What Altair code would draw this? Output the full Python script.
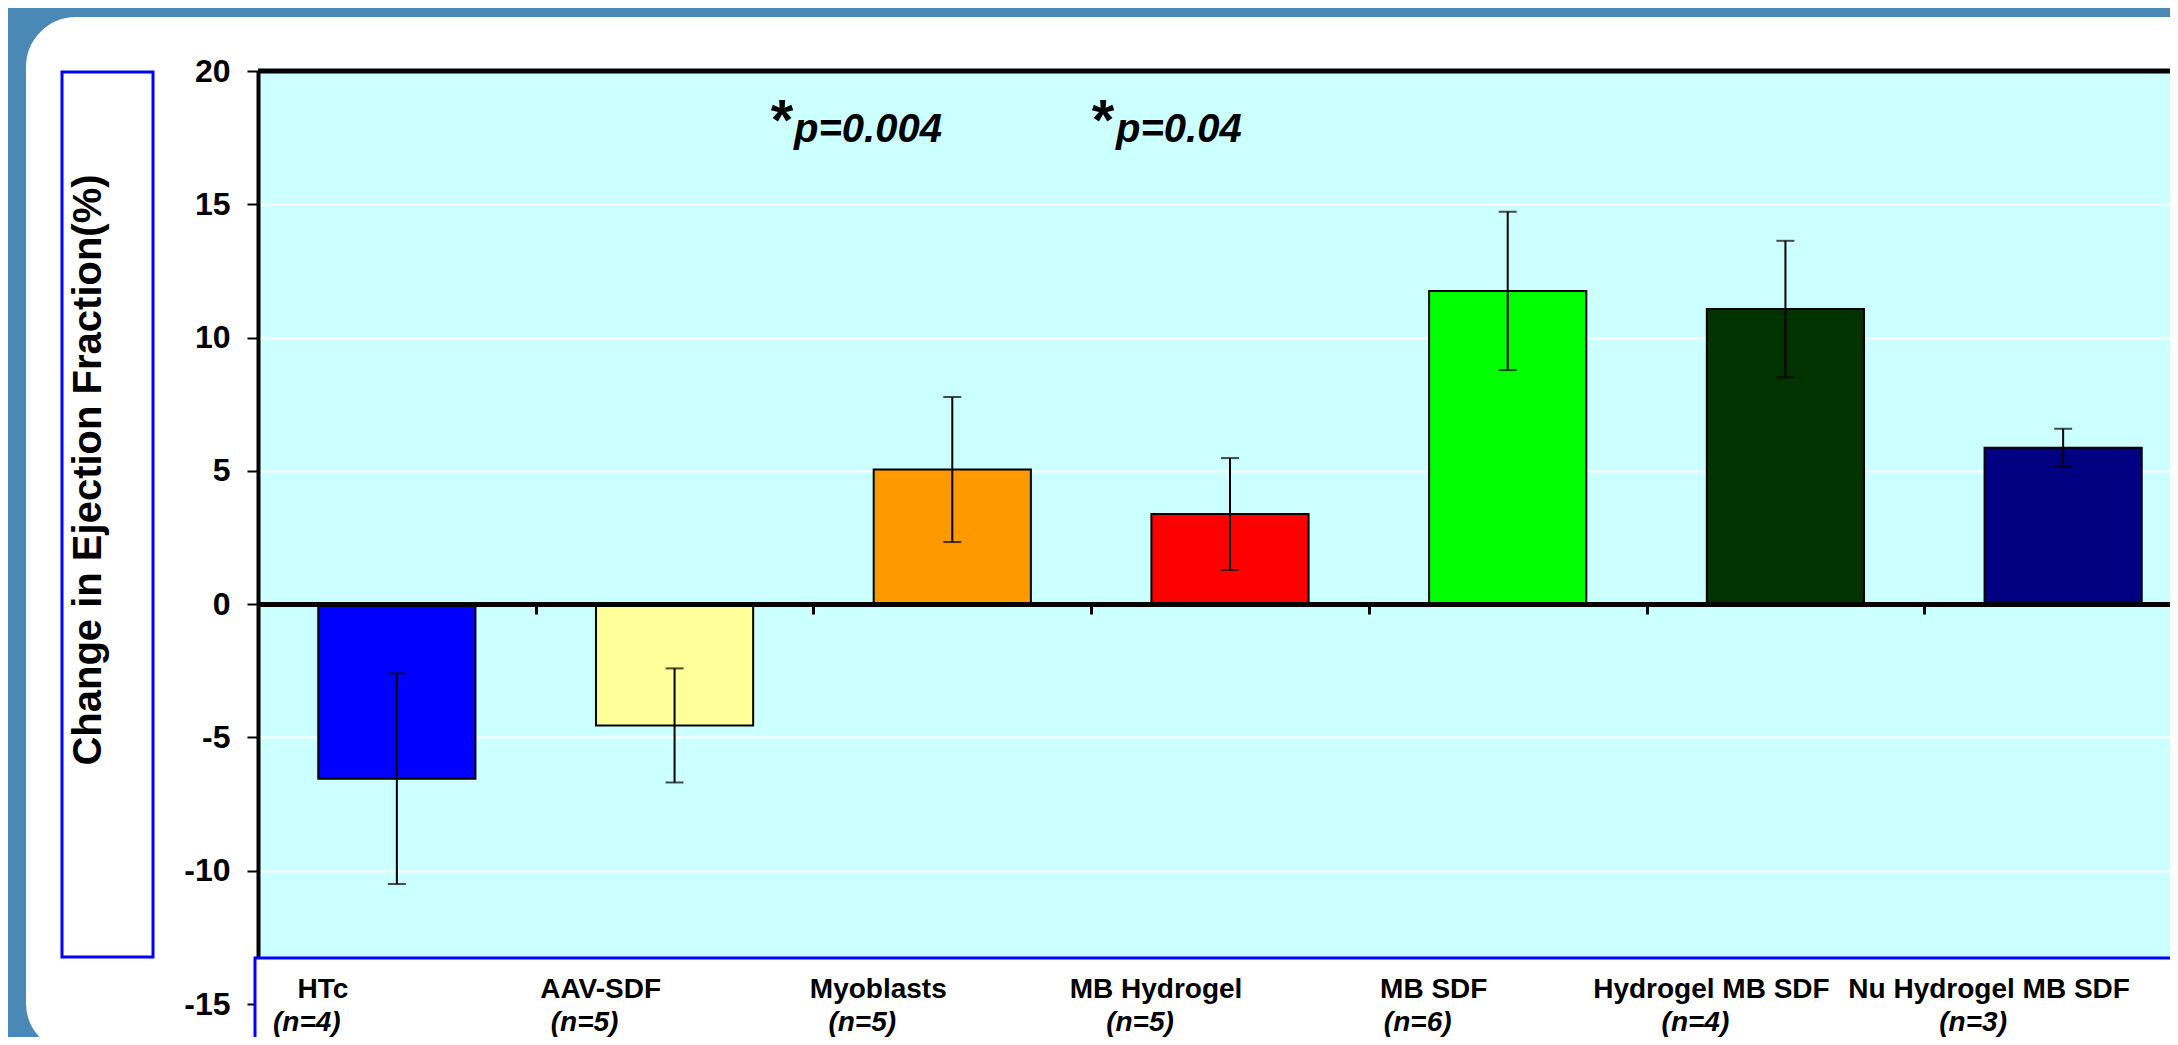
import altair as alt
import pandas as pd

categories = ["HTc", "AAV-SDF", "Myoblasts", "MB Hydrogel", "MB SDF",
              "Hydrogel MB SDF", "Nu Hydrogel MB SDF"]
n_labels = ["(n=4)", "(n=5)", "(n=5)", "(n=5)", "(n=6)", "(n=4)", "(n=3)"]
means = [-6.55, -4.55, 5.05, 3.38, 11.75, 11.07, 5.87]
errors = [3.95, 2.14, 2.72, 2.10, 2.97, 2.56, 0.71]
bar_colors = ["#0000FF", "#FFFF99", "#FF9900", "#FF0000", "#00FF00",
              "#003300", "#000080"]
y_ticks = [-15, -10, -5, 0, 5, 10, 15, 20]
p_texts = ["p=0.004", "p=0.04"]
y_title = "Change in Ejection Fraction(%)"

df = pd.DataFrame({"cat": categories, "n": n_labels, "mean": means,
                   "err": errors, "color": bar_colors})
df["lo"] = df["mean"] - df["err"]
df["hi"] = df["mean"] + df["err"]
deco = pd.DataFrame({"k": [0]})

W, H = 1912, 933
BLUE_BG = "#4A89B6"
BOX = "#0000FF"
FONT = "Liberation Sans"

x_scale = alt.Scale(domain=categories, range=[0, 1944], paddingInner=0, paddingOuter=0)
x_axis = alt.Axis(orient="bottom", offset=-400, labels=False, title=None,
                  domainColor="black", domainWidth=5, tickColor="black",
                  tickWidth=3, tickSize=10, tickBand="extent", grid=False, zindex=1)
X = alt.X("cat:N", scale=x_scale, axis=x_axis, sort=categories)

y_scale = alt.Scale(domain=[-15, 20], nice=False, zero=False)
y_axis = alt.Axis(values=y_ticks, title=None, grid=True, gridColor="white", gridWidth=2,
                  domainColor="black", domainWidth=4, tickColor="black", tickWidth=2,
                  tickSize=11, labelFont=FONT, labelFontWeight="bold",
                  labelFontSize=32, labelColor="black", labelPadding=17,
                  labelExpr="'' + datum.value")

base = alt.Chart(df)

frame = alt.Chart(deco).mark_rect(fillOpacity=0, stroke=BLUE_BG, strokeWidth=100,
                                  cornerRadius=100).encode(
    x=alt.value(-282), x2=alt.value(2012), y=alt.value(-104), y2=alt.value(1032))

title_box = alt.Chart(deco).mark_rect(fill="white", stroke=BOX, strokeWidth=3).encode(
    x=alt.value(-196), x2=alt.value(-105), y=alt.value(1), y2=alt.value(886))

bars = base.mark_bar(stroke="black", strokeWidth=2,
                     width=alt.RelativeBandSize(0.566)).encode(
    x=X,
    y=alt.Y("mean:Q", scale=y_scale, axis=y_axis),
    y2=alt.datum(0),
    color=alt.Color("color:N", scale=None),
)

err_rule = base.mark_rule(color="black", strokeWidth=2).encode(
    x=X, y=alt.Y("lo:Q", scale=y_scale, axis=y_axis), y2="hi:Q")
cap_lo = base.mark_tick(color="black", size=18, thickness=2).encode(
    x=X, y=alt.Y("lo:Q", scale=y_scale, axis=y_axis))
cap_hi = base.mark_tick(color="black", size=18, thickness=2).encode(
    x=X, y=alt.Y("hi:Q", scale=y_scale, axis=y_axis))

top_rule = alt.Chart(deco).mark_rule(color="black", strokeWidth=5).encode(
    x=alt.value(0), x2=alt.value(W), y=alt.value(0))

label_box = alt.Chart(deco).mark_rect(fill="white", stroke=BOX, strokeWidth=3).encode(
    x=alt.value(-3), x2=alt.value(1960), y=alt.value(887), y2=alt.value(990))

names = base.mark_text(font=FONT, fontWeight="bold", fontSize=28,
                       dx=-74, align="center", baseline="alphabetic", color="black").encode(
    x=X, y=alt.value(927), text="cat:N")
ns = base.mark_text(font=FONT, fontWeight="bold", fontStyle="italic",
                    fontSize=28, dx=-90, align="center", baseline="alphabetic",
                    color="black").encode(
    x=X, y=alt.value(960), text="n:N")

title_text = alt.Chart(deco).mark_text(text=y_title, angle=270, font=FONT,
                                       fontWeight="bold", fontSize=40, align="center",
                                       baseline="alphabetic", color="black").encode(
    x=alt.value(-157), y=alt.value(399))

p1 = alt.Chart(deco).mark_text(text=p_texts[0], font=FONT, fontWeight="bold",
                               fontStyle="italic", fontSize=40, align="left",
                               baseline="alphabetic", color="black").encode(
    x=alt.value(536), y=alt.value(71))
p2 = alt.Chart(deco).mark_text(text=p_texts[1], font=FONT, fontWeight="bold",
                               fontStyle="italic", fontSize=40, align="left",
                               baseline="alphabetic", color="black").encode(
    x=alt.value(858), y=alt.value(71))
a1 = alt.Chart(deco).mark_text(text="*", font=FONT, fontWeight="bold",
                               fontSize=58, align="center", baseline="alphabetic",
                               color="black").encode(x=alt.value(524), y=alt.value(69))
a2 = alt.Chart(deco).mark_text(text="*", font=FONT, fontWeight="bold",
                               fontSize=58, align="center", baseline="alphabetic",
                               color="black").encode(x=alt.value(845), y=alt.value(69))

chart = alt.layer(
    frame, title_box, bars, err_rule, cap_lo, cap_hi, top_rule, label_box,
    names, ns, title_text, p1, p2, a1, a2
).properties(
    width=W, height=H,
    autosize=alt.AutoSizeParams(type="none"),
    padding={"left": 250, "top": 63, "right": 0, "bottom": 33},
    background="white",
).configure_view(
    fill="#CCFFFF", strokeWidth=0
)

chart.save("out.html", embed_options={"renderer": "svg", "actions": False})
